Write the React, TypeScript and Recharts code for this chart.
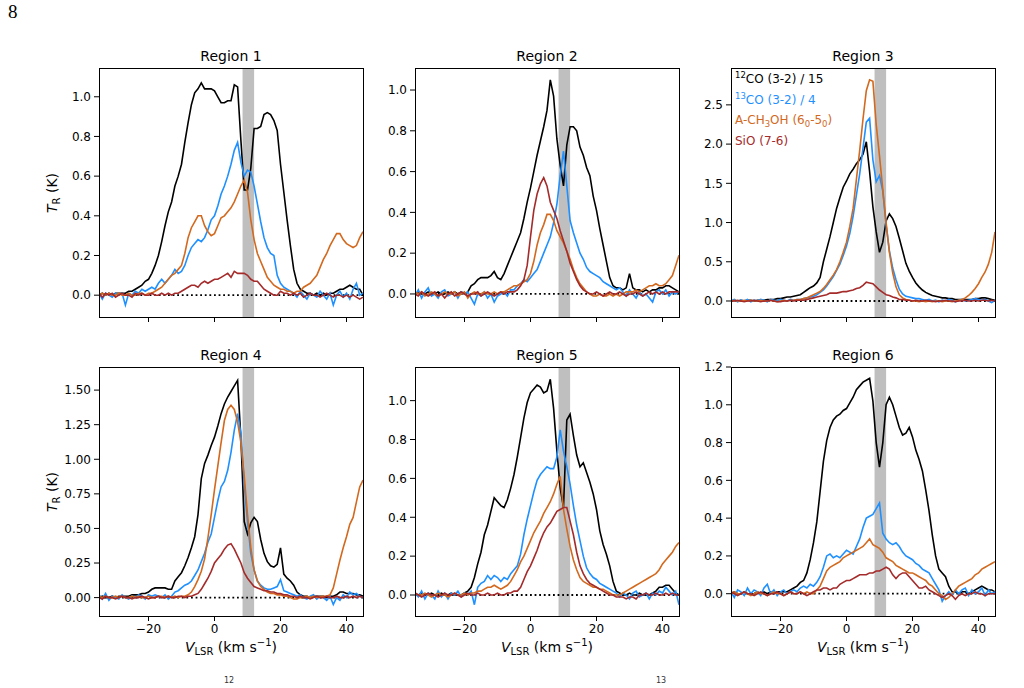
import React from "react";
import {
  LineChart,
  Line,
  XAxis,
  YAxis,
  ReferenceArea,
  ReferenceLine,
} from "recharts";

// velocity channels (km/s)
const velocity = [
  -35, -34, -33, -32, -31, -30, -29, -28, -27, -26,
  -25, -24, -23, -22, -21, -20, -19, -18, -17, -16,
  -15, -14, -13, -12, -11, -10, -9, -8, -7, -6,
  -5, -4, -3, -2, -1, 0, 1, 2, 3, 4,
  5, 6, 7, 8, 9, 10, 11, 12, 13, 14,
  15, 16, 17, 18, 19, 20, 21, 22, 23, 24,
  25, 26, 27, 28, 29, 30, 31, 32, 33, 34,
  35, 36, 37, 38, 39, 40, 41, 42, 43, 44,
  45,
];

const velocityTicks = [-20, 0, 20, 40];
const ticksTo1 = [0, 0.2, 0.4, 0.6, 0.8, 1.0];
const ticksTo12 = [0, 0.2, 0.4, 0.6, 0.8, 1.0, 1.2];
const ticksHalf = [0, 0.5, 1.0, 1.5, 2.0, 2.5];
const ticksQuarter = [0, 0.25, 0.5, 0.75, 1.0, 1.25, 1.5];

// ---- Region 1 ----
const r1Co12 = [
  0.00, 0.01, 0.00, 0.01, 0.00, 0.01, 0.01, 0.01, 0.01, 0.02,
  0.02, 0.03, 0.04, 0.05, 0.07, 0.08, 0.11, 0.15, 0.20, 0.27,
  0.35, 0.42, 0.47, 0.55, 0.60, 0.66, 0.77, 0.87, 0.96, 1.02,
  1.04, 1.07, 1.04, 1.04, 1.04, 1.03, 1.00, 0.97, 0.97, 0.98,
  0.98, 1.06, 1.05, 0.78, 0.53, 0.53, 0.64, 0.84, 0.84, 0.85,
  0.91, 0.92, 0.91, 0.88, 0.83, 0.66, 0.52, 0.38, 0.25, 0.13,
  0.06, 0.03, 0.02, 0.01, 0.01, 0.00, 0.01, 0.00, 0.01, 0.00,
  0.01, 0.01, 0.02, 0.03, 0.03, 0.04, 0.05, 0.04, 0.03, 0.03,
  0.00,
];
const r1Co13 = [
  0.01, -0.02, 0.01, 0.00, -0.01, 0.01, 0.00, 0.01, -0.05, 0.01,
  0.00, 0.02, 0.01, 0.03, 0.02, 0.03, 0.04, 0.03, 0.06, 0.08,
  0.06, 0.08, 0.10, 0.13, 0.11, 0.12, 0.15, 0.20, 0.24, 0.26,
  0.28, 0.27, 0.29, 0.33, 0.38, 0.40, 0.45, 0.51, 0.55, 0.60,
  0.66, 0.73, 0.77, 0.67, 0.60, 0.63, 0.62, 0.55, 0.46, 0.37,
  0.29, 0.24, 0.21, 0.20, 0.10, 0.06, 0.04, 0.03, 0.02, 0.01,
  -0.01, 0.02, 0.00, -0.02, 0.01, 0.00, -0.01, 0.02, 0.00, -0.02,
  0.01, -0.05, 0.00, 0.02, -0.01, 0.01, -0.02, 0.03, 0.06, 0.00,
  0.01,
];
const r1Ch3oh = [
  0.00, 0.01, 0.00, 0.01, 0.00, 0.00, 0.01, 0.00, 0.00, 0.01,
  0.00, 0.00, 0.01, 0.01, 0.00, 0.01, 0.01, 0.02, 0.03, 0.04,
  0.06, 0.08, 0.10, 0.11, 0.13, 0.15, 0.21, 0.29, 0.34, 0.37,
  0.40, 0.40, 0.35, 0.32, 0.30, 0.31, 0.35, 0.39, 0.40, 0.42,
  0.44, 0.47, 0.51, 0.55, 0.58, 0.52, 0.38, 0.28, 0.21, 0.17,
  0.13, 0.09, 0.07, 0.05, 0.04, 0.03, 0.03, 0.02, 0.02, 0.01,
  0.02, 0.02, 0.04, 0.05, 0.06, 0.08, 0.10, 0.14, 0.18, 0.21,
  0.25, 0.28, 0.31, 0.31, 0.28, 0.26, 0.25, 0.24, 0.25, 0.29,
  0.32,
];
const r1Sio = [
  0.01, -0.01, 0.01, 0.00, 0.01, -0.01, 0.00, 0.01, 0.00, 0.00,
  -0.01, 0.01, 0.00, 0.01, 0.00, 0.00, 0.01, 0.00, 0.00, 0.01,
  0.00, 0.01, 0.00, 0.01, 0.01, 0.02, 0.03, 0.04, 0.05, 0.05,
  0.04, 0.06, 0.07, 0.06, 0.07, 0.08, 0.08, 0.09, 0.10, 0.11,
  0.09, 0.12, 0.11, 0.11, 0.11, 0.10, 0.08, 0.07, 0.07, 0.05,
  0.03, 0.02, 0.01, 0.00, 0.00, 0.02, 0.01, 0.01, 0.00, 0.01,
  0.00, 0.01, -0.01, 0.00, 0.01, 0.00, 0.00, -0.01, 0.00, 0.01,
  0.00, -0.01, 0.00, 0.00, -0.01, 0.00, -0.01, 0.00, -0.01, -0.02,
  -0.01,
];

// ---- Region 2 ----
const r2Co12 = [
  0.00, 0.01, 0.00, 0.00, 0.01, 0.00, 0.00, 0.01, 0.00, 0.00,
  0.01, 0.00, 0.01, 0.00, 0.01, 0.00, 0.01, 0.04, 0.05, 0.07,
  0.08, 0.08, 0.08, 0.09, 0.11, 0.08, 0.07, 0.10, 0.14, 0.18,
  0.22, 0.26, 0.30, 0.37, 0.45, 0.52, 0.60, 0.68, 0.75, 0.82,
  0.90, 1.05, 0.97, 0.76, 0.63, 0.53, 0.73, 0.82, 0.82, 0.80,
  0.72, 0.68, 0.62, 0.58, 0.48, 0.41, 0.32, 0.24, 0.16, 0.08,
  0.04, 0.03, 0.03, 0.02, 0.03, 0.10, 0.03, 0.02, 0.02, 0.01,
  0.02, 0.01, 0.02, 0.02, 0.03, 0.03, 0.04, 0.04, 0.03, 0.02,
  0.01,
];
const r2Co13 = [
  -0.01, 0.02, -0.02, 0.01, 0.03, -0.01, 0.00, -0.02, 0.01, 0.02,
  -0.01, 0.00, 0.01, -0.02, 0.01, 0.00, 0.01, -0.02, -0.05, 0.00,
  -0.01, 0.01, -0.02, 0.00, -0.04, -0.01, 0.00, 0.01, -0.01, 0.02,
  0.02, 0.04, 0.05, 0.07, 0.06, 0.08, 0.10, 0.12, 0.16, 0.20,
  0.24, 0.28, 0.35, 0.44, 0.58, 0.70, 0.53, 0.36, 0.30, 0.25,
  0.20, 0.17, 0.13, 0.11, 0.10, 0.09, 0.08, 0.06, 0.05, 0.04,
  0.03, 0.02, 0.03, 0.01, -0.01, 0.02, 0.00, -0.02, 0.01, -0.01,
  0.00, -0.02, -0.04, 0.01, 0.02, 0.00, 0.02, -0.01, 0.01, 0.00,
  0.01,
];
const r2Ch3oh = [
  0.01, 0.00, 0.01, -0.01, 0.00, 0.01, 0.00, -0.01, 0.00, 0.01,
  0.00, 0.00, 0.01, -0.01, 0.00, 0.01, -0.02, 0.00, 0.01, 0.00,
  0.00, 0.01, 0.00, 0.00, 0.01, 0.00, 0.01, 0.01, 0.02, 0.03,
  0.04, 0.04, 0.05, 0.06, 0.07, 0.10, 0.16, 0.24, 0.30, 0.34,
  0.39, 0.39, 0.36, 0.31, 0.28, 0.25, 0.21, 0.17, 0.12, 0.08,
  0.05, 0.03, 0.01, 0.00, -0.01, -0.01, 0.00, -0.01, -0.01, 0.00,
  -0.01, 0.00, -0.01, 0.00, 0.01, 0.01, 0.01, 0.02, 0.01, 0.02,
  0.03, 0.04, 0.04, 0.05, 0.04, 0.04, 0.05, 0.07, 0.09, 0.14,
  0.19,
];
const r2Sio = [
  0.00, -0.01, 0.01, 0.00, -0.01, 0.00, 0.01, -0.01, 0.00, -0.02,
  0.00, 0.01, -0.01, 0.00, 0.01, 0.00, -0.01, 0.00, 0.00, 0.01,
  -0.01, 0.00, 0.01, 0.00, -0.01, 0.00, 0.01, 0.00, 0.01, 0.01,
  0.01, 0.02, 0.04, 0.07, 0.14, 0.28, 0.41, 0.49, 0.54, 0.57,
  0.53, 0.45, 0.41, 0.37, 0.31, 0.26, 0.21, 0.15, 0.11, 0.07,
  0.04, 0.02, 0.01, 0.00, 0.00, 0.01, 0.00, -0.01, 0.00, 0.01,
  0.00, 0.00, 0.01, 0.00, -0.01, 0.00, 0.00, 0.01, 0.00, -0.01,
  0.00, 0.01, 0.00, 0.01, 0.00, 0.01, 0.00, 0.01, 0.01, 0.01,
  0.01,
];

// ---- Region 3 ----
const r3Co12 = [
  0.00, 0.01, 0.00, 0.01, 0.00, 0.01, 0.01, 0.00, 0.01, 0.01,
  0.01, 0.02, 0.02, 0.02, 0.03, 0.03, 0.04, 0.05, 0.05, 0.06,
  0.07, 0.08, 0.11, 0.14, 0.17, 0.19, 0.23, 0.30, 0.50, 0.66,
  0.82, 1.00, 1.18, 1.32, 1.45, 1.53, 1.62, 1.68, 1.75, 1.80,
  1.87, 2.03, 1.65, 1.20, 0.88, 0.62, 0.75, 1.02, 1.11, 1.05,
  0.95, 0.80, 0.64, 0.48, 0.38, 0.30, 0.23, 0.18, 0.14, 0.11,
  0.09, 0.07, 0.06, 0.05, 0.04, 0.04, 0.03, 0.03, 0.02, 0.02,
  0.02, 0.02, 0.02, 0.02, 0.03, 0.03, 0.04, 0.04, 0.03, 0.02,
  0.01,
];
const r3Co13 = [
  0.00, 0.02, -0.01, 0.01, 0.00, 0.02, -0.01, 0.01, 0.00, 0.02,
  0.01, -0.01, 0.02, 0.01, 0.00, 0.02, 0.01, 0.00, 0.02, 0.01,
  0.02, 0.02, 0.03, 0.04, 0.05, 0.06, 0.08, 0.11, 0.14, 0.19,
  0.25, 0.31, 0.39, 0.47, 0.58, 0.70, 0.86, 1.08, 1.35, 1.62,
  1.95, 2.28, 2.33, 1.80, 1.52, 1.60, 1.40, 0.97, 0.64, 0.42,
  0.27, 0.15, 0.09, 0.06, 0.05, 0.04, 0.03, 0.03, 0.02, 0.01,
  0.02, 0.00, 0.01, -0.01, 0.01, 0.00, 0.02, 0.01, -0.01, 0.01,
  0.02, 0.00, 0.01, 0.02, 0.03, 0.02, 0.01, 0.02, 0.00, -0.02,
  0.01,
];
const r3Ch3oh = [
  0.00, 0.01, 0.00, 0.00, 0.01, 0.00, 0.01, 0.00, 0.00, 0.01,
  0.00, 0.00, 0.01, 0.00, -0.01, 0.00, 0.01, 0.00, 0.01, 0.01,
  0.02, 0.02, 0.03, 0.04, 0.06, 0.08, 0.10, 0.12, 0.16, 0.21,
  0.27, 0.33, 0.40, 0.50, 0.62, 0.75, 0.95, 1.18, 1.55, 1.92,
  2.32, 2.68, 2.82, 2.80, 2.25, 1.85, 1.42, 1.00, 0.62, 0.36,
  0.18, 0.08, 0.04, 0.02, 0.01, 0.00, 0.00, -0.01, 0.00, -0.01,
  0.00, -0.01, 0.00, 0.00, -0.01, 0.00, 0.00, -0.01, 0.00, 0.01,
  0.02, 0.04, 0.07, 0.11, 0.16, 0.22, 0.30, 0.37, 0.47, 0.62,
  0.88,
];
const r3Sio = [
  0.00, 0.00, 0.01, 0.00, -0.01, 0.00, 0.00, 0.01, 0.00, -0.01,
  0.00, 0.00, 0.01, 0.00, -0.01, -0.01, 0.00, 0.00, 0.01, 0.00,
  0.01, 0.01, 0.01, 0.02, 0.03, 0.04, 0.05, 0.06, 0.07, 0.08,
  0.10, 0.10, 0.10, 0.11, 0.12, 0.12, 0.13, 0.14, 0.16, 0.17,
  0.20, 0.24, 0.23, 0.22, 0.18, 0.14, 0.11, 0.08, 0.07, 0.05,
  0.04, 0.02, 0.02, 0.01, 0.01, 0.00, 0.01, 0.00, 0.00, 0.01,
  0.00, 0.00, -0.01, 0.00, 0.00, 0.01, 0.00, 0.00, -0.01, 0.00,
  0.00, 0.01, 0.00, 0.00, 0.01, 0.00, 0.01, 0.01, 0.00, 0.01,
  0.00,
];

// ---- Region 4 ----
const r4Co12 = [
  0.00, 0.01, 0.00, 0.00, 0.01, 0.00, 0.01, 0.01, 0.01, 0.01,
  0.02, 0.02, 0.02, 0.03, 0.03, 0.04, 0.06, 0.07, 0.07, 0.07,
  0.07, 0.06, 0.06, 0.12, 0.15, 0.18, 0.23, 0.29, 0.36, 0.44,
  0.60, 0.86, 0.97, 1.03, 1.10, 1.16, 1.24, 1.33, 1.40, 1.45,
  1.49, 1.53, 1.57, 1.15, 0.55, 0.46, 0.54, 0.58, 0.55, 0.42,
  0.32, 0.26, 0.23, 0.22, 0.24, 0.36, 0.17, 0.14, 0.12, 0.09,
  0.04, 0.02, 0.01, 0.01, 0.00, 0.01, 0.01, 0.01, 0.01, 0.00,
  0.01, 0.01, 0.02, 0.04, 0.04, 0.03, 0.03, 0.03, 0.02, 0.02,
  0.01,
];
const r4Co13 = [
  0.02, -0.01, 0.03, -0.02, 0.01, 0.00, -0.01, 0.02, 0.00, -0.01,
  0.01, 0.00, 0.02, 0.01, -0.01, 0.02, 0.01, 0.02, 0.01, 0.00,
  0.02, -0.01, 0.01, 0.04, 0.05, 0.07, 0.09, 0.10, 0.12, 0.16,
  0.20, 0.26, 0.32, 0.40, 0.46, 0.58, 0.70, 0.80, 0.84, 0.92,
  1.05, 1.21, 1.33, 1.19, 0.82, 0.55, 0.32, 0.20, 0.12, 0.09,
  0.07, 0.06, 0.06, 0.07, 0.08, 0.13, 0.05, 0.04, 0.03, 0.02,
  0.01, 0.02, 0.00, -0.01, 0.01, 0.02, -0.01, 0.01, 0.00, -0.02,
  0.01, -0.05, 0.00, -0.02, 0.02, 0.00, 0.04, 0.02, 0.03, 0.01,
  0.00,
];
const r4Ch3oh = [
  0.01, 0.00, 0.01, 0.00, 0.00, 0.01, 0.00, 0.01, 0.00, 0.00,
  0.01, 0.00, 0.01, 0.00, 0.00, 0.01, 0.00, 0.00, 0.01, 0.01,
  0.00, 0.01, 0.00, 0.01, 0.00, 0.01, 0.01, 0.02, 0.04, 0.08,
  0.13, 0.19, 0.28, 0.43, 0.60, 0.78, 0.95, 1.12, 1.28, 1.36,
  1.39, 1.36, 1.27, 1.12, 0.88, 0.60, 0.36, 0.20, 0.12, 0.08,
  0.06, 0.04, 0.03, 0.03, 0.02, 0.02, 0.01, 0.01, 0.00, -0.01,
  -0.01, 0.00, 0.00, 0.01, 0.00, 0.01, 0.00, 0.01, 0.01, 0.01,
  0.02, 0.07, 0.17, 0.27, 0.36, 0.44, 0.53, 0.58, 0.69, 0.80,
  0.85,
];
const r4Sio = [
  0.00, -0.01, 0.01, 0.00, 0.00, -0.01, 0.00, 0.01, 0.00, 0.00,
  -0.01, 0.00, 0.00, 0.01, 0.00, -0.01, 0.00, 0.00, 0.01, 0.00,
  0.00, 0.01, 0.00, 0.00, 0.01, 0.01, 0.00, 0.01, 0.01, 0.02,
  0.03, 0.06, 0.10, 0.14, 0.19, 0.25, 0.28, 0.31, 0.35, 0.38,
  0.39, 0.35, 0.30, 0.25, 0.18, 0.14, 0.11, 0.08, 0.07, 0.06,
  0.05, 0.05, 0.04, 0.04, 0.03, 0.03, 0.02, 0.02, 0.01, 0.01,
  0.00, 0.01, 0.00, 0.00, -0.01, 0.00, 0.01, 0.00, 0.00, 0.01,
  0.00, 0.00, 0.01, 0.00, 0.00, 0.01, 0.00, 0.01, 0.00, 0.01,
  0.00,
];

// ---- Region 5 ----
const r5Co12 = [
  0.00, 0.00, 0.01, 0.00, 0.00, 0.01, 0.00, 0.00, 0.01, 0.00,
  0.00, 0.01, 0.00, 0.00, 0.00, 0.01, 0.02, 0.04, 0.09, 0.16,
  0.22, 0.31, 0.36, 0.43, 0.50, 0.48, 0.46, 0.45, 0.49, 0.55,
  0.62, 0.71, 0.81, 0.91, 0.99, 1.04, 1.06, 1.08, 1.07, 1.04,
  1.05, 1.11, 0.96, 0.74, 0.55, 0.45, 0.90, 0.93, 0.82, 0.72,
  0.66, 0.68, 0.63, 0.58, 0.52, 0.44, 0.33, 0.26, 0.21, 0.15,
  0.07, 0.02, 0.01, 0.00, 0.00, 0.01, 0.00, 0.00, 0.01, 0.00,
  0.00, 0.00, 0.01, 0.02, 0.04, 0.04, 0.05, 0.05, 0.03, 0.01,
  0.00,
];
const r5Co13 = [
  0.01, -0.01, 0.02, -0.02, 0.01, 0.00, -0.02, 0.02, -0.01, 0.01,
  -0.02, 0.01, 0.00, 0.02, -0.01, 0.01, 0.00, 0.02, -0.05, 0.04,
  0.06, 0.07, 0.10, 0.08, 0.10, 0.09, 0.07, 0.09, 0.08, 0.11,
  0.13, 0.15, 0.21, 0.31, 0.39, 0.46, 0.53, 0.59, 0.62, 0.64,
  0.66, 0.65, 0.65, 0.71, 0.85, 0.74, 0.66, 0.57, 0.46, 0.36,
  0.28, 0.20, 0.14, 0.11, 0.09, 0.08, 0.06, 0.05, 0.04, 0.03,
  0.02, 0.01, -0.01, 0.01, 0.00, -0.02, 0.01, 0.02, -0.01, 0.00,
  0.01, -0.02, 0.01, 0.00, 0.02, 0.01, 0.04, 0.02, 0.00, 0.02,
  -0.05,
];
const r5Ch3oh = [
  0.01, 0.00, 0.00, 0.01, 0.00, -0.01, 0.00, 0.01, 0.00, 0.00,
  -0.01, 0.00, 0.01, 0.00, 0.00, 0.01, 0.00, 0.01, 0.01, 0.02,
  0.02, 0.03, 0.04, 0.04, 0.05, 0.04, 0.03, 0.04, 0.05, 0.07,
  0.10, 0.13, 0.17, 0.20, 0.24, 0.28, 0.32, 0.35, 0.38, 0.42,
  0.45, 0.48, 0.52, 0.57, 0.61, 0.44, 0.34, 0.25, 0.18, 0.13,
  0.09, 0.07, 0.06, 0.05, 0.04, 0.04, 0.03, 0.03, 0.02, 0.01,
  0.00, 0.00, 0.00, 0.01, 0.02, 0.03, 0.04, 0.05, 0.06, 0.07,
  0.08, 0.09, 0.10, 0.11, 0.13, 0.16, 0.18, 0.20, 0.22, 0.25,
  0.27,
];
const r5Sio = [
  0.01, 0.00, -0.01, 0.00, 0.01, 0.00, 0.00, -0.01, 0.00, 0.01,
  0.00, 0.00, 0.01, 0.00, -0.01, 0.00, 0.01, 0.00, 0.00, 0.01,
  0.00, 0.00, 0.01, 0.00, 0.00, 0.01, 0.00, 0.00, 0.01, 0.01,
  0.02, 0.02, 0.04, 0.08, 0.12, 0.15, 0.19, 0.23, 0.28, 0.32,
  0.35, 0.37, 0.40, 0.43, 0.44, 0.45, 0.45, 0.38, 0.31, 0.22,
  0.15, 0.11, 0.08, 0.06, 0.05, 0.04, 0.03, 0.02, 0.01, 0.00,
  0.00, -0.01, -0.01, -0.01, -0.02, -0.01, -0.01, -0.02, 0.00, 0.00,
  0.01, 0.00, 0.00, 0.01, 0.00, 0.00, 0.01, 0.00, 0.01, 0.00,
  0.00,
];

// ---- Region 6 ----
const r6Co12 = [
  0.00, 0.01, 0.00, 0.00, 0.01, 0.00, 0.00, 0.00, 0.01, 0.00,
  0.01, 0.00, 0.01, 0.00, 0.01, 0.01, 0.01, 0.01, 0.02, 0.03,
  0.04, 0.06, 0.07, 0.11, 0.18, 0.27, 0.38, 0.54, 0.70, 0.81,
  0.88, 0.92, 0.94, 0.95, 0.97, 0.98, 1.01, 1.04, 1.08, 1.10,
  1.12, 1.13, 1.14, 1.02, 0.80, 0.67, 0.80, 1.00, 1.04, 1.00,
  0.94, 0.88, 0.84, 0.85, 0.88, 0.83, 0.76, 0.71, 0.65, 0.55,
  0.44, 0.31, 0.20, 0.13, 0.11, 0.09, 0.04, 0.01, 0.01, 0.00,
  0.01, 0.01, 0.00, 0.01, 0.02, 0.03, 0.04, 0.03, 0.02, 0.02,
  0.01,
];
const r6Co13 = [
  0.01, -0.02, 0.02, 0.01, -0.01, 0.03, 0.00, 0.02, 0.01, -0.01,
  0.03, 0.05, 0.00, 0.02, -0.01, 0.01, 0.02, 0.00, 0.01, 0.02,
  0.01, 0.03, 0.04, 0.03, 0.05, 0.04, 0.06, 0.09, 0.14, 0.20,
  0.21, 0.19, 0.20, 0.19, 0.21, 0.23, 0.22, 0.21, 0.25, 0.29,
  0.35, 0.40, 0.41, 0.42, 0.45, 0.48, 0.32, 0.29, 0.27, 0.26,
  0.27, 0.25, 0.22, 0.20, 0.19, 0.18, 0.16, 0.15, 0.13, 0.12,
  0.11, 0.08, 0.05, 0.02, -0.04, -0.01, 0.01, -0.01, 0.02, 0.00,
  0.02, 0.03, -0.01, 0.02, 0.00, 0.01, 0.03, -0.01, 0.02, 0.00,
  0.01,
];
const r6Ch3oh = [
  0.00, 0.01, 0.00, 0.00, 0.01, 0.00, -0.01, 0.00, 0.01, 0.00,
  0.00, -0.01, 0.00, 0.01, 0.00, 0.00, -0.01, 0.00, 0.01, 0.00,
  0.00, 0.01, 0.00, 0.01, 0.00, 0.00, 0.02, 0.04, 0.08, 0.12,
  0.14, 0.15, 0.16, 0.17, 0.19, 0.20, 0.21, 0.22, 0.23, 0.24,
  0.25, 0.27, 0.29, 0.26, 0.25, 0.24, 0.22, 0.19, 0.18, 0.17,
  0.15, 0.14, 0.13, 0.12, 0.11, 0.11, 0.10, 0.09, 0.08, 0.07,
  0.05, 0.04, 0.02, 0.00, -0.01, -0.03, -0.02, 0.00, 0.02, 0.04,
  0.05, 0.06, 0.07, 0.08, 0.10, 0.11, 0.13, 0.14, 0.15, 0.16,
  0.17,
];
const r6Sio = [
  0.01, 0.00, -0.01, 0.00, 0.01, 0.00, 0.00, -0.01, 0.00, 0.01,
  0.00, -0.01, 0.00, 0.00, 0.01, 0.00, -0.01, 0.00, 0.01, 0.00,
  0.00, 0.01, 0.00, -0.01, 0.00, 0.01, 0.02, 0.02, 0.03, 0.03,
  0.02, 0.03, 0.03, 0.05, 0.06, 0.07, 0.07, 0.08, 0.09, 0.10,
  0.10, 0.10, 0.11, 0.11, 0.12, 0.12, 0.13, 0.14, 0.13, 0.10,
  0.08, 0.10, 0.11, 0.11, 0.09, 0.07, 0.05, 0.03, 0.03, 0.04,
  0.02, 0.01, 0.00, -0.01, -0.02, -0.01, 0.00, -0.01, -0.03, -0.01,
  0.00, -0.01, 0.00, 0.00, 0.01, 0.00, 0.00, -0.01, 0.00, 0.00,
  0.00,
];

const COLORS = {
  co12: "#000000",
  co13: "#1e90ff",
  ch3oh: "#d2691e",
  sio: "#a52a2a",
};

// plot geometry
const PLOT_W = 264;
const PLOT_H = 249;
const Y_W = 60;
const X_H = 30;
const M_TOP = 10;
const M_RIGHT = 10;
const COL_X = [99, 415, 731];
const ROW_Y = [68, 367];

const FONT = "'DejaVu Sans', sans-serif";

type Region = {
  title: string;
  co12: number[];
  co13: number[];
  ch3oh: number[];
  sio: number[];
  yDomain: [number, number];
  yTicks: number[];
  digits: number;
  col: number;
  row: number;
};

const regions: Region[] = [
  { title: "Region 1", co12: r1Co12, co13: r1Co13, ch3oh: r1Ch3oh, sio: r1Sio, yDomain: [-0.11, 1.145], yTicks: ticksTo1, digits: 1, col: 0, row: 0 },
  { title: "Region 2", co12: r2Co12, co13: r2Co13, ch3oh: r2Ch3oh, sio: r2Sio, yDomain: [-0.113, 1.108], yTicks: ticksTo1, digits: 1, col: 1, row: 0 },
  { title: "Region 3", co12: r3Co12, co13: r3Co13, ch3oh: r3Ch3oh, sio: r3Sio, yDomain: [-0.204, 2.97], yTicks: ticksHalf, digits: 1, col: 2, row: 0 },
  { title: "Region 4", co12: r4Co12, co13: r4Co13, ch3oh: r4Ch3oh, sio: r4Sio, yDomain: [-0.133, 1.667], yTicks: ticksQuarter, digits: 2, col: 0, row: 1 },
  { title: "Region 5", co12: r5Co12, co13: r5Co13, ch3oh: r5Ch3oh, sio: r5Sio, yDomain: [-0.108, 1.173], yTicks: ticksTo1, digits: 1, col: 1, row: 1 },
  { title: "Region 6", co12: r6Co12, co13: r6Co13, ch3oh: r6Ch3oh, sio: r6Sio, yDomain: [-0.118, 1.2], yTicks: ticksTo12, digits: 1, col: 2, row: 1 },
];

const minus = (s: string) => s.replace("-", "\u2212");

function SpectrumPanel({ r }: { r: Region }) {
  const data = velocity.map((v, i) => ({
    v,
    co12: r.co12[i],
    co13: r.co13[i],
    ch3oh: r.ch3oh[i],
    sio: r.sio[i],
  }));
  const left = COL_X[r.col];
  const top = ROW_Y[r.row];
  const bottomRow = r.row === 1;
  const tickStyle = { fill: "#000", fontSize: 12, fontFamily: FONT };

  return (
    <>
      <div style={{ position: "absolute", left: left - Y_W, top: top - M_TOP }}>
        <LineChart
          width={Y_W + PLOT_W + M_RIGHT}
          height={M_TOP + PLOT_H + X_H}
          data={data}
          margin={{ top: M_TOP, right: M_RIGHT, left: 0, bottom: 0 }}
        >
          <XAxis
            type="number"
            dataKey="v"
            domain={[-35, 45]}
            ticks={velocityTicks}
            interval={0}
            allowDataOverflow
            height={X_H}
            axisLine={false}
            tickLine={{ stroke: "#000", strokeWidth: 1 }}
            tickSize={5}
            tickMargin={3}
            tick={tickStyle}
            tickFormatter={(v: number) => (bottomRow ? minus(String(v)) : "")}
          />
          <YAxis
            type="number"
            domain={r.yDomain}
            ticks={r.yTicks}
            interval={0}
            allowDataOverflow
            width={Y_W}
            axisLine={false}
            tickLine={{ stroke: "#000", strokeWidth: 1 }}
            tickSize={5}
            tickMargin={3}
            tick={tickStyle}
            tickFormatter={(v: number) => v.toFixed(r.digits)}
          />
          <ReferenceArea
            x1={8.5}
            x2={12}
            fill="#808080"
            fillOpacity={0.5}
            stroke="none"
            ifOverflow="hidden"
          />
          <ReferenceLine
            y={0}
            stroke="#000"
            strokeWidth={1.8}
            strokeDasharray="1.8 2.8"
          />
          <Line type="linear" dataKey="co12" stroke={COLORS.co12} strokeWidth={1.6} dot={false} isAnimationActive={false} />
          <Line type="linear" dataKey="co13" stroke={COLORS.co13} strokeWidth={1.6} dot={false} isAnimationActive={false} />
          <Line type="linear" dataKey="ch3oh" stroke={COLORS.ch3oh} strokeWidth={1.6} dot={false} isAnimationActive={false} />
          <Line type="linear" dataKey="sio" stroke={COLORS.sio} strokeWidth={1.6} dot={false} isAnimationActive={false} />
        </LineChart>
      </div>
      {/* axes frame */}
      <div
        style={{
          position: "absolute",
          left: left - 0.5,
          top: top - 0.5,
          width: PLOT_W + 1,
          height: PLOT_H + 1,
          border: "1px solid #000",
          boxSizing: "border-box",
          pointerEvents: "none",
        }}
      />
      <div
        style={{
          position: "absolute",
          left,
          width: PLOT_W,
          top: top - 20,
          textAlign: "center",
          fontSize: 14,
          lineHeight: "16px",
        }}
      >
        {r.title}
      </div>
      {r.col === 0 && (
        <div
          style={{
            position: "absolute",
            left: 52 - 40,
            top: top + PLOT_H / 2 - 9,
            width: 80,
            height: 18,
            lineHeight: "18px",
            fontSize: 14,
            textAlign: "center",
            transform: "rotate(-90deg)",
            whiteSpace: "nowrap",
          }}
        >
          <i>T</i>
          <span style={{ fontSize: 10, verticalAlign: -3, lineHeight: 0 }}>R</span> (K)
        </div>
      )}
      {bottomRow && (
        <div
          style={{
            position: "absolute",
            left,
            width: PLOT_W,
            top: 638,
            textAlign: "center",
            fontSize: 14,
            lineHeight: "18px",
            whiteSpace: "nowrap",
          }}
        >
          <i>V</i>
          <span style={{ fontSize: 10, verticalAlign: -3, lineHeight: 0 }}>LSR</span> (km s
          <span style={{ fontSize: 10, verticalAlign: 6, lineHeight: 0 }}>{"\u22121"}</span>)
        </div>
      )}
    </>
  );
}

function SpeciesLegend() {
  const sup = { fontSize: 8.5, verticalAlign: 5, lineHeight: 0 };
  const sub = { fontSize: 8.5, verticalAlign: -3, lineHeight: 0 };
  const row = { height: 20.6, lineHeight: "20.6px" };
  return (
    <div
      style={{
        position: "absolute",
        left: 735,
        top: 69,
        fontSize: 12,
        whiteSpace: "nowrap",
      }}
    >
      <div style={{ ...row, color: COLORS.co12 }}>
        <span style={sup}>12</span>CO (3-2) / 15
      </div>
      <div style={{ ...row, color: COLORS.co13 }}>
        <span style={sup}>13</span>CO (3-2) / 4
      </div>
      <div style={{ ...row, color: COLORS.ch3oh }}>
        A-CH<span style={sub}>3</span>OH (6<span style={sub}>0</span>-5<span style={sub}>0</span>)
      </div>
      <div style={{ ...row, color: COLORS.sio }}>SiO (7-6)</div>
    </div>
  );
}

export default function App() {
  return (
    <div
      style={{
        position: "absolute",
        left: 0,
        top: 0,
        width: 1024,
        height: 688,
        overflow: "hidden",
        background: "#fff",
        fontFamily: FONT,
        color: "#000",
      }}
    >
      <div
        style={{
          position: "absolute",
          left: 8,
          top: 1,
          fontFamily: "'Liberation Serif', serif",
          fontSize: 19,
          lineHeight: "22px",
        }}
      >
        8
      </div>
      {regions.map((r) => (
        <SpectrumPanel key={r.title} r={r} />
      ))}
      <SpeciesLegend />
      {/* caption fragments along the lower edge */}
      <div style={{ position: "absolute", left: 224, top: 676, fontSize: 8, lineHeight: "10px", color: "#333" }}>12</div>
      <div style={{ position: "absolute", left: 656, top: 676, fontSize: 8, lineHeight: "10px", color: "#333" }}>13</div>
    </div>
  );
}
